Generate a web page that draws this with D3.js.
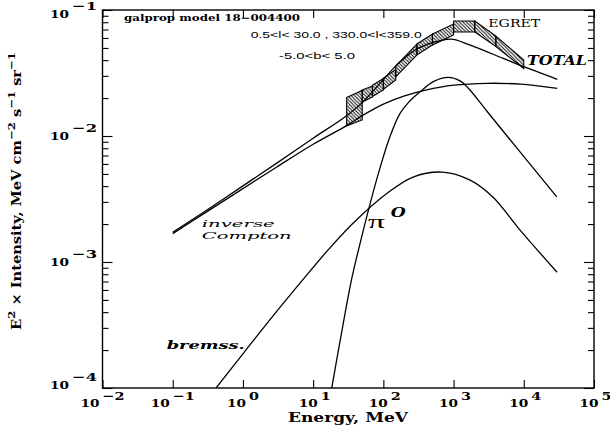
<!DOCTYPE html>
<html><head><meta charset="utf-8">
<script src="https://cdn.jsdelivr.net/npm/d3@7"></script>
<style>body{margin:0;background:#fff}svg{display:block}</style>
</head><body>
<svg id="c" width="610" height="429"></svg>
<script>
// ---- data ----
const xTickExps = [-2, -1, 0, 1, 2, 3, 4, 5];
const yTickExps = [-4, -3, -2, -1];

const icEnergy = [0.1, 0.3, 1, 3, 10, 30, 50, 100, 200, 400, 1000, 3000, 9000, 30000];
const icValue  = [1.68e-3, 2.49e-3, 3.82e-3, 5.65e-3, 8.6e-3, 1.21e-2, 1.45e-2, 1.79e-2, 2.08e-2, 2.31e-2, 2.53e-2, 2.62e-2, 2.58e-2, 2.39e-2];

const totEnergy = [0.1, 0.3, 1, 3, 10, 30, 50, 100, 150, 200, 300, 500, 800, 1000, 2000, 5000, 10000, 30000];
const totValue  = [1.72e-3, 2.56e-3, 4.02e-3, 6.06e-3, 9.6e-3, 1.45e-2, 1.84e-2, 2.8e-2, 3.6e-2, 4.15e-2, 4.9e-2, 5.5e-2, 5.85e-2, 5.85e-2, 5.1e-2, 4.15e-2, 3.55e-2, 2.82e-2];

const pi0Energy = [18.4, 24, 35.5, 47, 63, 87.7, 124, 173, 227, 333, 515, 843, 1238, 1626, 2970, 8000, 29500];
const pi0Value  = [1.0e-4, 2.3e-4, 7.4e-4, 1.43e-3, 2.74e-3, 5.36e-3, 9.86e-3, 1.51e-2, 1.84e-2, 2.24e-2, 2.70e-2, 2.92e-2, 2.74e-2, 2.39e-2, 1.58e-2, 8.0e-3, 3.29e-3];

const bremEnergy = [0.414, 1.04, 2.6, 6.5, 15.8, 37, 113, 265, 685, 1718, 3655, 8850, 29800];
const bremValue  = [1.0e-4, 1.92e-4, 3.65e-4, 6.79e-4, 1.22e-3, 2.03e-3, 3.51e-3, 4.72e-3, 5.17e-3, 4.47e-3, 3.27e-3, 1.79e-3, 8.3e-4];

const egretEmin = [30, 50, 70, 100, 150, 300, 500, 1000, 2000, 4000];
const egretEmax = [50, 70, 100, 150, 300, 500, 1000, 2000, 4000, 10000];
const egretHiAtMin = [2.02e-2, 2.32e-2, 2.53e-2, 2.88e-2, 3.59e-2, 5.37e-2, 6.45e-2, 8.18e-2, 8.18e-2, 6.21e-2];
const egretLoAtMin = [1.20e-2, 1.86e-2, 2.06e-2, 2.34e-2, 2.94e-2, 4.39e-2, 5.27e-2, 6.69e-2, 6.69e-2, 5.13e-2];
const egretHiAtMax = [2.30e-2, 2.49e-2, 2.86e-2, 3.37e-2, 5.37e-2, 6.45e-2, 7.74e-2, 8.18e-2, 6.21e-2, 4.01e-2];
const egretLoAtMax = [1.34e-2, 2.04e-2, 2.32e-2, 2.78e-2, 4.39e-2, 5.27e-2, 6.33e-2, 6.69e-2, 5.13e-2, 3.43e-2];

// ---- layout ----
const m = {l: 102.5, r: 594, t: 10, b: 388};
const svg = d3.select('#c');
const x = d3.scaleLog().domain([1e-2, 1e5]).range([m.l, m.r]);
const y = d3.scaleLog().domain([1e-4, 1e-1]).range([m.b, m.t]);
const SERIF = "'DejaVu Serif', 'Liberation Serif', serif";
const SANS = "'Liberation Sans', Arial, sans-serif";

const defs = svg.append('defs');
defs.append('clipPath').attr('id', 'clip').append('rect')
  .attr('x', m.l).attr('y', m.t).attr('width', m.r - m.l).attr('height', m.b - m.t);
const pat = defs.append('pattern').attr('id', 'hatch').attr('patternUnits', 'userSpaceOnUse')
  .attr('width', 3.5).attr('height', 3.5);
pat.append('path').attr('d', 'M0,0 L3.5,3.5 M-1,2.5 L1,4.5 M2.5,-1 L4.5,1')
  .attr('stroke', '#000').attr('stroke-width', 0.9);

// ---- axes ----
const majorY = yTickExps.map(e => Math.pow(10, e));
const minorY = [];
for (let e = -4; e < -1; e++) for (let k = 2; k <= 9; k++) minorY.push(k * Math.pow(10, e));
const majorX = xTickExps.map(e => Math.pow(10, e));

function styleAxis(g) {
  g.select('.domain').remove();
  g.selectAll('line').attr('stroke', '#000').attr('stroke-width', 1.1);
  g.selectAll('text').remove();
}
svg.append('g').attr('transform', `translate(${m.l},0)`).call(d3.axisRight(y).tickValues(majorY).tickSize(10)).call(styleAxis);
svg.append('g').attr('transform', `translate(${m.l},0)`).call(d3.axisRight(y).tickValues(minorY).tickSize(6)).call(styleAxis);
svg.append('g').attr('transform', `translate(${m.r},0)`).call(d3.axisLeft(y).tickValues(majorY).tickSize(10)).call(styleAxis);
svg.append('g').attr('transform', `translate(${m.r},0)`).call(d3.axisLeft(y).tickValues(minorY).tickSize(6)).call(styleAxis);
svg.append('g').attr('transform', `translate(0,${m.t})`).call(d3.axisBottom(x).tickValues(majorX).tickSize(8)).call(styleAxis);
svg.append('g').attr('transform', `translate(0,${m.b})`).call(d3.axisTop(x).tickValues(majorX).tickSize(8)).call(styleAxis);

svg.append('rect').attr('x', m.l).attr('y', m.t).attr('width', m.r - m.l).attr('height', m.b - m.t)
  .attr('fill', 'none').attr('stroke', '#000').attr('stroke-width', 1.4);

function txt(s, px, py, opts) {
  const t = svg.append('text').attr('x', px).attr('y', py).text(s)
    .attr('font-family', opts.family || SERIF).attr('font-size', opts.size || 12)
    .attr('font-weight', opts.weight || 'normal').attr('font-style', opts.style || 'normal')
    .attr('fill', '#000');
  if (opts.len) t.attr('textLength', opts.len).attr('lengthAdjust', 'spacingAndGlyphs');
  return t;
}
const supStr = e => (e < 0 ? '\u2212' + (-e) : String(e));

// y tick labels
yTickExps.forEach((e, i) => {
  const ty = y(Math.pow(10, e));
  const off = i === yTickExps.length - 1 ? 8 : (i === 0 ? 0.5 : 3.5);
  txt('10', 50, ty + off, {size: 11.5, weight: 'bold', len: 19});
  txt(supStr(e), 72, ty + off - 8, {size: 11.5, weight: 'bold', len: 25});
});
// x tick labels
xTickExps.forEach(e => {
  const tx = x(Math.pow(10, e));
  const supW = e < 0 ? 22 : 10;
  const total = 19 + 3 + supW;
  const start = tx + (e > 0 ? 1.5 : 0) - total / 2;
  txt('10', start, 407, {size: 11.5, weight: 'bold', len: 19});
  txt(supStr(e), start + 22, 400, {size: 11.5, weight: 'bold', len: supW});
});

// axis titles
txt('Energy, MeV', 288, 421.5, {size: 12.5, weight: 'bold', len: 120});
const yt = svg.append('g').attr('transform', 'rotate(-90)').append('text')
  .attr('x', -330).attr('y', 21).attr('font-family', SERIF).attr('font-weight', 'bold')
  .attr('font-size', 12.5).attr('textLength', 278).attr('lengthAdjust', 'spacingAndGlyphs');
yt.append('tspan').text('E');
yt.append('tspan').attr('dy', -6).attr('font-size', 10).text('2');
yt.append('tspan').attr('dy', 6).text(' \u00d7 Intensity, MeV cm');
yt.append('tspan').attr('dy', -6).attr('font-size', 10).text('\u22122');
yt.append('tspan').attr('dy', 6).text(' s');
yt.append('tspan').attr('dy', -6).attr('font-size', 10).text('\u22121');
yt.append('tspan').attr('dy', 6).text(' sr');
yt.append('tspan').attr('dy', -6).attr('font-size', 10).text('\u22121');

// ---- EGRET boxes ----
const plot = svg.append('g').attr('clip-path', 'url(#clip)');
const boxes = egretEmin.map((e0, i) => [
  [x(e0), y(egretHiAtMin[i])], [x(egretEmax[i]), y(egretHiAtMax[i])],
  [x(egretEmax[i]), y(egretLoAtMax[i])], [x(e0), y(egretLoAtMin[i])]
]);
plot.selectAll('path.box').data(boxes).join('path').attr('class', 'box')
  .attr('d', d => 'M' + d.join('L') + 'Z')
  .attr('fill', 'url(#hatch)').attr('stroke', '#000').attr('stroke-width', 1.1);

// ---- model curves ----
const line = d3.line().x(d => x(d[0])).y(d => y(d[1])).curve(d3.curveCatmullRom.alpha(0.5));
const series = [
  [icEnergy, icValue], [totEnergy, totValue], [pi0Energy, pi0Value], [bremEnergy, bremValue]
];
series.forEach(([E, V]) => {
  plot.append('path').attr('d', line(E.map((e, i) => [e, V[i]])))
    .attr('fill', 'none').attr('stroke', '#000').attr('stroke-width', 1.3);
});

// ---- annotations ----
txt('galprop model 18\u2212004400', 124, 21, {size: 9.5, weight: 'bold', len: 176});
txt('0.5<l< 30.0 , 330.0<l<359.0', 250.7, 37.5, {family: SANS, size: 9, len: 171});
txt('-5.0<b< 5.0', 279, 59, {family: SANS, size: 9, len: 76});
txt('EGRET', 488.3, 27.3, {size: 10.5, len: 52});
txt('TOTAL', 527, 65, {size: 12, weight: 'bold', style: 'italic', len: 60});
txt('inverse', 201.7, 226.5, {size: 10, style: 'italic', len: 73});
txt('Compton', 201.7, 238.5, {size: 10, style: 'italic', len: 90});
txt('\u03c0', 368, 228, {family: "'Liberation Serif', serif", size: 19, len: 17});
txt('O', 390.7, 217, {size: 13, style: 'italic', weight: 'bold', len: 15});
txt('bremss.', 166.7, 349, {size: 11.5, style: 'italic', weight: 'bold', len: 78});
</script>
</body></html>
